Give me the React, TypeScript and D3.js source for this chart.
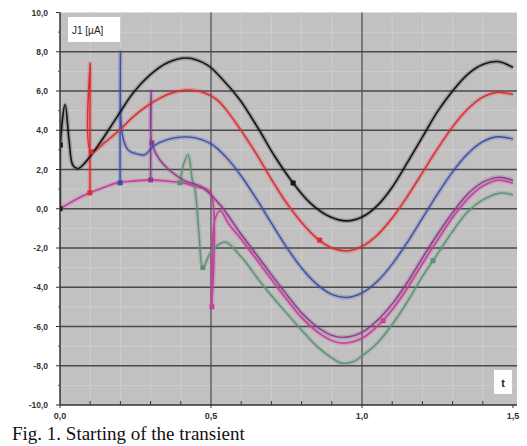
import * as d3 from 'd3';

// axis ticks
const xTicks = [0, 0.5, 1.0, 1.5];
const xTickLabels = ['0,0', '0,5', '1,0', '1,5'];
const xMinorTicks = [0.1, 0.2, 0.3, 0.4, 0.6, 0.7, 0.8, 0.9, 1.1, 1.2, 1.3, 1.4];
const yTicks = [10, 8, 6, 4, 2, 0, -2, -4, -6, -8, -10];
const yTickLabels = ['10,0', '8,0', '6,0', '4,0', '2,0', '0,0', '-2,0', '-4,0', '-6,0', '-8,0', '-10,0'];
const yMinorTicks = [9, 7, 5, 3, 1, -1, -3, -5, -7, -9];

// J1 curves, switching at t = 0, 0.1, 0.2, 0.3, 0.4, 0.5
const blackJ: [number, number][] = [
  [0, 0], [0.001, 3.25], [0.017, 5.3], [0.03, 3.5], [0.043, 2.2], [0.06, 2.05], [0.083, 2.35],
  [0.132, 3.35], [0.189, 4.68], [0.242, 5.9], [0.298, 6.82], [0.354, 7.43], [0.42, 7.68],
  [0.487, 7.33], [0.54, 6.56], [0.596, 5.54], [0.656, 4.1], [0.712, 2.65], [0.772, 1.31],
  [0.828, 0.3], [0.894, -0.41], [0.95, -0.62], [1.0, -0.42], [1.05, 0.15], [1.1, 1.1],
  [1.15, 2.35], [1.2, 3.65], [1.25, 4.95], [1.3, 6.0], [1.35, 6.85], [1.4, 7.35], [1.45, 7.5], [1.5, 7.2],
];
const blackMarks: [number, number][] = [[0, 0], [0.001, 3.25], [0.772, 1.31]];

const redJ: [number, number][] = [
  [0.099, 0.81], [0.1, 7.4], [0.103, 2.9], [0.15, 3.4], [0.2, 4.05], [0.242, 4.68], [0.29, 5.25],
  [0.331, 5.64], [0.38, 5.95], [0.43, 6.05], [0.48, 5.9], [0.52, 5.55], [0.55, 5.05], [0.6, 3.98],
  [0.65, 2.8], [0.7, 1.5], [0.75, 0.3], [0.8, -0.7], [0.85, -1.5], [0.9, -2.0], [0.95, -2.15],
  [1.0, -1.92], [1.05, -1.35], [1.1, -0.47], [1.15, 0.62], [1.2, 1.84], [1.25, 3.06], [1.3, 4.17],
  [1.35, 5.08], [1.4, 5.69], [1.45, 5.94], [1.5, 5.82],
];
const redMarks: [number, number][] = [[0.099, 0.81], [0.103, 2.9], [0.86, -1.6]];

const blueJ: [number, number][] = [
  [0.199, 1.32], [0.2, 8.0], [0.206, 3.8], [0.225, 3.0], [0.242, 2.85], [0.28, 2.75], [0.31, 3.2],
  [0.35, 3.5], [0.43, 3.65], [0.5, 3.31], [0.55, 2.63], [0.6, 1.67], [0.65, 0.51], [0.7, -0.73],
  [0.75, -1.95], [0.8, -3.02], [0.85, -3.84], [0.9, -4.36], [0.95, -4.52], [1.0, -4.29],
  [1.05, -3.71], [1.1, -2.82], [1.15, -1.71], [1.2, -0.48], [1.25, 0.75], [1.3, 1.88], [1.35, 2.8],
  [1.4, 3.42], [1.45, 3.67], [1.5, 3.55],
];
const blueMarks: [number, number][] = [[0.199, 1.32]];

const purpleJ: [number, number][] = [
  [0.3, 1.47], [0.302, 6.0], [0.304, 3.35], [0.33, 2.5], [0.36, 2.0], [0.41, 1.45], [0.47, 1.1],
  [0.53, 0.2], [0.6, -1.3], [0.666, -2.65], [0.732, -4.0], [0.8, -5.3], [0.85, -6.0], [0.9, -6.45],
  [0.94, -6.55], [1.0, -6.3], [1.05, -5.7], [1.1, -4.85], [1.15, -3.75], [1.2, -2.5], [1.25, -1.3],
  [1.3, -0.2], [1.35, 0.75], [1.4, 1.35], [1.45, 1.6], [1.5, 1.45],
];
const purpleMarks: [number, number][] = [[0.3, 1.47], [0.304, 3.35]];

const greenJ: [number, number][] = [
  [0.397, 1.32], [0.41, 2.3], [0.424, 2.75], [0.438, 1.5], [0.447, 0.96], [0.46, -1.2], [0.473, -3.0],
  [0.5, -2.2], [0.546, -1.69], [0.6, -2.45], [0.666, -3.78], [0.732, -5.0], [0.8, -6.18], [0.85, -7.0],
  [0.9, -7.6], [0.93, -7.86], [0.97, -7.8], [1.0, -7.5], [1.05, -6.85], [1.1, -5.9], [1.15, -4.75],
  [1.2, -3.45], [1.235, -2.65], [1.3, -1.15], [1.35, -0.15], [1.4, 0.45], [1.46, 0.8], [1.5, 0.7],
];
const greenMarks: [number, number][] = [[0.397, 1.32], [0.473, -3.0], [1.235, -2.65]];

const magentaJ: [number, number][] = [
  [0, 0], [0.05, 0.45], [0.099, 0.81], [0.149, 1.11], [0.189, 1.32], [0.248, 1.42], [0.298, 1.47],
  [0.348, 1.42], [0.407, 1.32], [0.454, 1.11], [0.497, 0.86], [0.503, -5.0], [0.512, -0.6],
  [0.53, -0.1], [0.56, -0.8], [0.6, -1.55], [0.666, -2.9], [0.732, -4.25], [0.8, -5.55], [0.85, -6.25],
  [0.9, -6.72], [0.94, -6.85], [1.0, -6.6], [1.05, -6.0], [1.1, -5.15], [1.15, -4.05], [1.2, -2.8],
  [1.25, -1.6], [1.3, -0.45], [1.35, 0.5], [1.4, 1.15], [1.45, 1.45], [1.5, 1.3],
];
const magentaMarks: [number, number][] = [[0.503, -5.0], [1.07, -5.7]];

const series = [
  { key: 'magenta', pts: magentaJ, marks: magentaMarks, color: '#c8409c', width: 1.6 },
  { key: 'green', pts: greenJ, marks: greenMarks, color: '#5e9274', width: 1.5 },
  { key: 'purple', pts: purpleJ, marks: purpleMarks, color: '#8a3c8c', width: 1.4 },
  { key: 'blue', pts: blueJ, marks: blueMarks, color: '#3d4ea8', width: 1.4 },
  { key: 'red', pts: redJ, marks: redMarks, color: '#e02a30', width: 1.5 },
  { key: 'black', pts: blackJ, marks: blackMarks, color: '#151515', width: 1.6 },
];

const W = 527;
const H = 446;
const margin = { top: 12.5, right: 14, bottom: 41, left: 60 };

export default function App() {
  const x = d3.scaleLinear().domain([0, 1.5]).range([margin.left, W - margin.right]);
  const y = d3.scaleLinear().domain([-10, 10]).range([H - margin.bottom, margin.top]);

  const line = d3
    .line<[number, number]>()
    .x((d) => x(d[0]))
    .y((d) => y(d[1]))
    .curve(d3.curveCatmullRom.alpha(0.5));

  const plotLeft = x(0);
  const plotRight = x(1.5) + 4;
  const plotTop = y(10);
  const plotBottom = y(-10);

  return (
    <svg
      width={W}
      height={H}
      style={{ position: 'absolute', left: 0, top: 0, background: '#fff' }}
      fontFamily="'Liberation Sans', Arial, sans-serif"
    >
      <defs>
        <clipPath id="plot">
          <rect x={plotLeft} y={plotTop} width={plotRight - plotLeft} height={plotBottom - plotTop} />
        </clipPath>
      </defs>

      {/* plot background */}
      <rect x={plotLeft} y={plotTop} width={plotRight - plotLeft} height={plotBottom - plotTop} fill="#c2c0c1" />

      {/* minor grid */}
      {xMinorTicks.map((t) => (
        <line key={'mx' + t} x1={x(t)} x2={x(t)} y1={plotTop} y2={plotBottom} stroke="#cfcdce" strokeWidth={1} />
      ))}
      {yMinorTicks.map((t) => (
        <line key={'my' + t} x1={plotLeft} x2={plotRight} y1={y(t)} y2={y(t)} stroke="#cfcdce" strokeWidth={1} />
      ))}

      {/* major grid */}
      {yTicks.slice(1, -1).map((t) => (
        <line key={'gy' + t} x1={plotLeft} x2={plotRight} y1={y(t)} y2={y(t)} stroke="#4a4a4a" strokeWidth={1.4} />
      ))}
      {xTicks.slice(1, -1).map((t) => (
        <line key={'gx' + t} x1={x(t)} x2={x(t)} y1={plotTop} y2={plotBottom} stroke="#4a4a4a" strokeWidth={1.2} />
      ))}

      {/* curves */}
      <g clipPath="url(#plot)">
        {series.map((s) => (
          <path key={s.key + 'h'} d={line(s.pts) || ''} fill="none" stroke={s.color} strokeWidth={4.5} strokeOpacity={0.22} />
        ))}
        {series.map((s) => (
          <path key={s.key} d={line(s.pts) || ''} fill="none" stroke={s.color} strokeWidth={s.width} />
        ))}
        {series.map((s) =>
          s.marks.map((m, i) => (
            <rect key={s.key + 'm' + i} x={x(m[0]) - 2.5} y={y(m[1]) - 2.5} width={5} height={5} fill={s.color} />
          ))
        )}
      </g>

      {/* axes */}
      <line x1={plotLeft} x2={plotLeft} y1={plotTop} y2={plotBottom} stroke="#333" strokeWidth={1.5} />
      <line x1={plotLeft} x2={plotRight} y1={plotBottom} y2={plotBottom} stroke="#333" strokeWidth={1.5} />
      {yTicks.map((t, i) => (
        <g key={'yt' + t}>
          <line x1={plotLeft - 4} x2={plotLeft} y1={y(t)} y2={y(t)} stroke="#333" />
          <text x={plotLeft - 12} y={y(t) + 3} textAnchor="end" fontSize={8.5} fontWeight="bold" fill="#333">
            {yTickLabels[i]}
          </text>
        </g>
      ))}
      {yMinorTicks.map((t) => (
        <line key={'ymt' + t} x1={plotLeft - 2} x2={plotLeft} y1={y(t)} y2={y(t)} stroke="#555" />
      ))}
      {xMinorTicks.map((t) => (
        <line key={'xmt' + t} x1={x(t)} x2={x(t)} y1={plotBottom - 4} y2={plotBottom} stroke="#333" />
      ))}
      {xTicks.map((t, i) => (
        <g key={'xt' + t}>
          <line x1={x(t)} x2={x(t)} y1={plotBottom} y2={plotBottom + 3} stroke="#333" />
          <text x={x(t)} y={plotBottom + 14} textAnchor="middle" fontSize={9} fontWeight="bold" fill="#333">
            {xTickLabels[i]}
          </text>
        </g>
      ))}

      {/* labels */}
      <rect x={68} y={17} width={52} height={25} fill="#fff" />
      <text x={72} y={34} fontSize={10} fill="#222">J1 [µA]</text>
      <rect x={494} y={370} width={18} height={24} fill="#fff" />
      <text x={503} y={387} fontSize={11} fontWeight="bold" textAnchor="middle" fill="#222">t</text>

      {/* caption */}
      <text x={12} y={440} fontFamily="'Liberation Serif', 'DejaVu Serif', serif" fontSize={19} fill="#111">
        Fig. 1. Starting of the transient
      </text>
    </svg>
  );
}
